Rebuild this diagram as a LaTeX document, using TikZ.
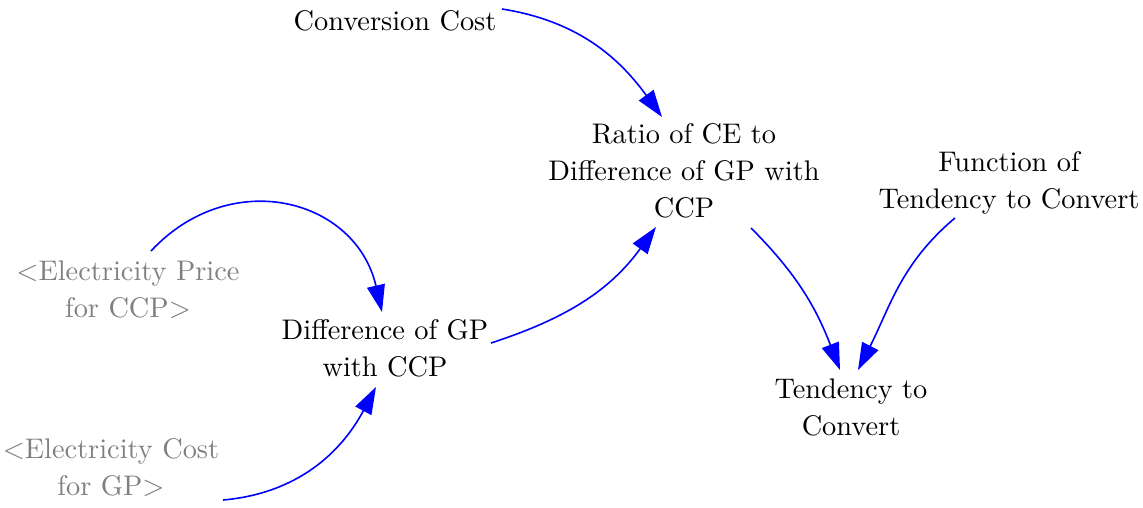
\documentclass[tikz,border=0pt]{standalone}
\usepackage{graphicx}
\usetikzlibrary{arrows.meta}
\definecolor{linkblue}{RGB}{0,0,255}
\definecolor{shadowgray}{RGB}{128,128,128}
\newcommand\lbltext[1]{\scalebox{2.835}{\fontsize{10}{13.05}\selectfont\begin{tabular}{@{}c@{}}#1\end{tabular}}}
\begin{document}
\begin{tikzpicture}[x=1pt,y=1pt,
  lbl/.style={align=center, inner sep=0pt},
  ghost/.style={lbl, text=shadowgray},
  link/.style={draw=linkblue, line width=1.6pt, -{Triangle[length=27pt,width=18pt]}}]
\useasboundingbox (0,0) rectangle (1143,-508);
\node[lbl]   (cc)    at (395,-23)  {\lbltext{Conversion Cost}};
\node[lbl]   (ratio) at (684,-173) {\lbltext{Ratio of CE to\\Difference of GP with\\CCP}};
\node[lbl]   (func)  at (1009,-183) {\lbltext{Function of\\Tendency to Convert}};
\node[ghost] (price) at (128,-292) {\lbltext{<Electricity Price\\for CCP>}};
\node[lbl]   (diff)  at (385,-351) {\lbltext{Difference of GP\\with CCP}};
\node[lbl]   (tend)  at (851,-410) {\lbltext{Tendency to\\Convert}};
\node[ghost] (cost)  at (111,-470) {\lbltext{<Electricity Cost\\for GP>}};

\draw[link] ([shift={(107,14)}]cc.center) to[out=-9,in=126] ([shift={(-22,56)}]ratio.center);
\draw[link] ([shift={(23,41)}]price.center) to[out=47,in=103,looseness=1.25] ([shift={(-3,39)}]diff.center);
\draw[link] ([shift={(112,-30)}]cost.center) to[out=5,in=242] ([shift={(-9,-36)}]diff.center);
\draw[link] ([shift={(106,8)}]diff.center) to[out=18,in=234] ([shift={(-28,-54)}]ratio.center);
\draw[link] ([shift={(67,-55)}]ratio.center) to[out=-45,in=111] ([shift={(-11,40)}]tend.center);
\draw[link] ([shift={(-54,-35)}]func.center) to[out=-140,in=63] ([shift={(7,40)}]tend.center);
\end{tikzpicture}
\end{document}
